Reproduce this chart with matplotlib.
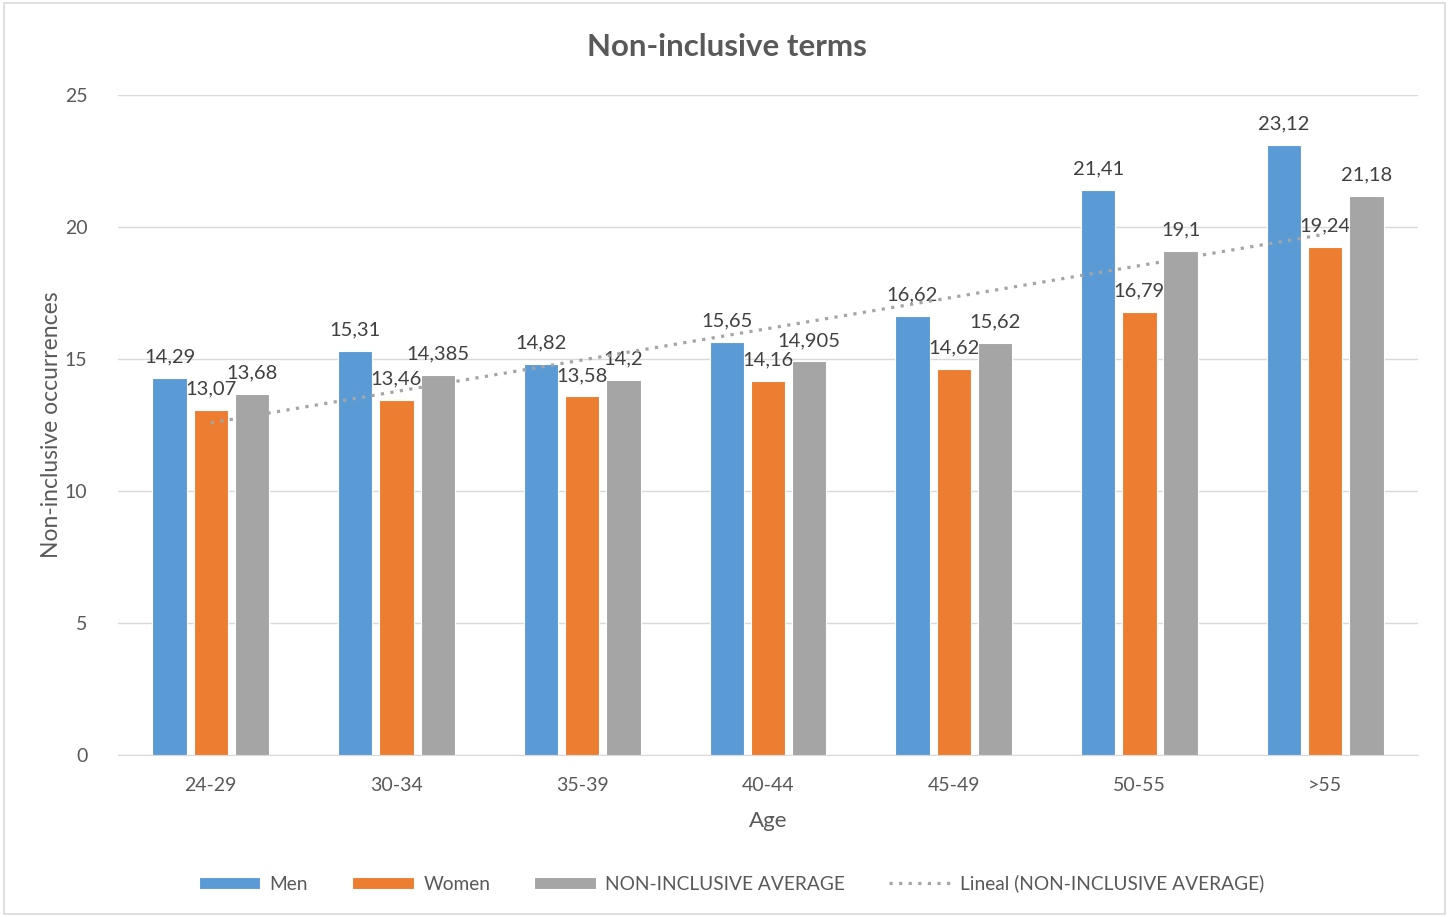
import numpy as np
import matplotlib.pyplot as plt
from matplotlib.patches import Rectangle

plt.rcParams['font.family'] = ['Lato', 'DejaVu Sans']

ages = ['24-29', '30-34', '35-39', '40-44', '45-49', '50-55', '>55']
men = [14.29, 15.31, 14.82, 15.65, 16.62, 21.41, 23.12]
women = [13.07, 13.46, 13.58, 14.16, 14.62, 16.79, 19.24]
average = [13.68, 14.385, 14.2, 14.905, 15.62, 19.1, 21.18]

blue = '#5B9BD5'
orange = '#ED7D31'
gray = '#A5A5A5'
text_col = '#595959'

fig = plt.figure(figsize=(14.49, 9.17), dpi=100)
ax = fig.add_axes([0.0814, 0.1767, 0.8972, 0.7197])
fig.patches.append(Rectangle((0.003, 0.003), 0.994, 0.994, transform=fig.transFigure,
                             fill=False, edgecolor='#D9D9D9', linewidth=1.2))

x = np.arange(len(ages))
w = 0.185
step = 0.222


def fmt(v):
    s = ('%.3f' % v).rstrip('0').rstrip('.')
    return s.replace('.', ',')


series = [(men, blue, 'Men', -step), (women, orange, 'Women', 0), (average, gray, 'NON-INCLUSIVE AVERAGE', step)]
handles = []
for vals, col, name, off in series:
    bars = ax.bar(x + off, vals, w, color=col, edgecolor='white', linewidth=0.8, label=name, zorder=3)
    ax.bar_label(bars, labels=[fmt(v) for v in vals], padding=9, fontsize=14.5, color='#404040')
    handles.append(bars)

# linear trendline of the average series
k, b = np.polyfit(x, average, 1)
trend, = ax.plot(x, k * x + b, linestyle=(0, (1, 2)), color=gray, linewidth=2.3,
                 label='Lineal (NON-INCLUSIVE AVERAGE)', zorder=4)

ax.set_xlim(-0.5, 6.5)
ax.set_ylim(0, 25)
ax.set_yticks([0, 5, 10, 15, 20, 25])
ax.set_xticks(x)
ax.set_xticklabels(ages)
ax.grid(axis='y', color='#D9D9D9', linewidth=1, zorder=0)
for s in ['top', 'right', 'left']:
    ax.spines[s].set_visible(False)
ax.spines['bottom'].set_color('#D9D9D9')
ax.tick_params(axis='both', length=0, labelsize=14, labelcolor=text_col)
ax.tick_params(axis='x', pad=16)
ax.tick_params(axis='y', pad=22)

fig.text(0.502, 0.949, 'Non-inclusive terms', fontsize=22.5, fontweight='bold', color=text_col,
         ha='center', va='center')
ax.set_xlabel('Age', fontsize=16, color=text_col, labelpad=12)
ax.set_ylabel('Non-inclusive occurrences', fontsize=16.5, color=text_col, labelpad=2)

ax.legend(handles=handles + [trend], loc='center', bbox_to_anchor=(0.472, -0.195),
          ncol=4, frameon=False, fontsize=13.8, labelcolor=text_col,
          handlelength=3.2, handleheight=0.6, handletextpad=0.5, columnspacing=2.3)

fig.savefig('out.png', dpi=100)
